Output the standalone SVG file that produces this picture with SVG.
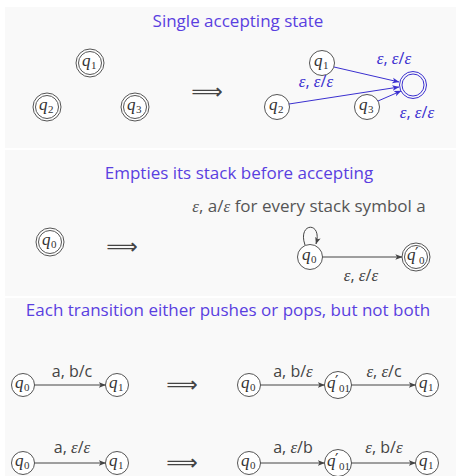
<svg xmlns="http://www.w3.org/2000/svg" width="456" height="476" viewBox="0 0 456 476">
<defs>
<marker id="ah" viewBox="0 0 10 10" refX="9.5" refY="5" markerWidth="7" markerHeight="7" orient="auto" markerUnits="userSpaceOnUse"><path d="M0,1 L10,5 L0,9 L2.5,5 Z" fill="#444"/></marker>
<marker id="ahb" viewBox="0 0 10 10" refX="9.5" refY="5" markerWidth="7" markerHeight="7" orient="auto" markerUnits="userSpaceOnUse"><path d="M0,1 L10,5 L0,9 L2.5,5 Z" fill="#3b30d0"/></marker>
</defs>
<style>
.panel{fill:#f9f9f9}
.title{font-family:"Open Sans","Liberation Sans",sans-serif;font-size:17px;fill:#5a3fe0;text-anchor:middle}
.st{fill:#fff;stroke:#555;stroke-width:1}
.stb{fill:none;stroke:#3b30d0;stroke-width:1}
.q{font-family:"Liberation Serif",serif;font-style:italic;font-size:17px;fill:#333}
.sub{font-family:"Liberation Serif",serif;font-style:normal;font-size:11px}
.pr{font-family:"DejaVu Sans",sans-serif;font-style:normal;font-size:15px}
.lbl{font-family:"Open Sans","Liberation Sans",sans-serif;font-size:16px;fill:#444;text-anchor:middle}
.lblb{font-family:"Open Sans","Liberation Sans",sans-serif;font-size:16px;fill:#3b30d0;text-anchor:middle}
.e{font-family:"Liberation Serif",serif;font-style:italic;font-size:17px}
.edge{fill:none;stroke:#444;stroke-width:1}
.edgeb{fill:none;stroke:#3b30d0;stroke-width:1}
.imp{font-family:"DejaVu Sans",sans-serif;font-size:22px;fill:#444;text-anchor:middle}
</style>
<rect class="panel" x="5" y="7" width="451" height="141"/>
<rect class="panel" x="5" y="150" width="451" height="146"/>
<rect class="panel" x="5" y="298" width="451" height="178"/>

<text class="title" x="238" y="27">Single accepting state</text>
<text class="title" x="239" y="179">Empties its stack before accepting</text>
<text class="title" x="228" y="316">Each transition either pushes or pops, but not both</text>

<!-- Panel 1 left -->
<g id="p1-q1"><circle class="st" cx="90" cy="63" r="14"/><circle class="st" cx="90" cy="63" r="11.5"/><text class="q" x="82" y="66">q<tspan class="sub" x="91" y="69">1</tspan></text></g>
<g id="p1-q2"><circle class="st" cx="47" cy="107" r="14"/><circle class="st" cx="47" cy="107" r="11.5"/><text class="q" x="39" y="110">q<tspan class="sub" x="48" y="113">2</tspan></text></g>
<g id="p1-q3"><circle class="st" cx="135" cy="107" r="14"/><circle class="st" cx="135" cy="107" r="11.5"/><text class="q" x="127" y="110">q<tspan class="sub" x="136" y="113">3</tspan></text></g>
<text class="imp" x="207" y="99">⟹</text>

<!-- Panel 1 right -->
<g id="p1r-q1"><circle class="st" cx="322" cy="63" r="12.5"/><text class="q" x="314" y="66">q<tspan class="sub" x="323" y="69">1</tspan></text></g>
<g id="p1r-q2"><circle class="st" cx="277" cy="107" r="12.5"/><text class="q" x="269" y="110">q<tspan class="sub" x="278" y="113">2</tspan></text></g>
<g id="p1r-q3"><circle class="st" cx="367" cy="107" r="12.5"/><text class="q" x="359" y="110">q<tspan class="sub" x="368" y="113">3</tspan></text></g>
<g id="p1r-acc"><circle class="stb" cx="413" cy="85" r="13.5"/><circle class="stb" cx="413" cy="85" r="11"/></g>

<!-- Panel 2 -->
<g id="p2-q0"><circle class="st" cx="50" cy="242" r="14"/><circle class="st" cx="50" cy="242" r="11.5"/><text class="q" x="42" y="245">q<tspan class="sub" x="51" y="248">0</tspan></text></g>
<text class="imp" x="122" y="254">⟹</text>
<text class="lbl" x="309" y="212" style="font-size:17px;fill:#555"><tspan class="e">ε</tspan>, a/<tspan class="e">ε</tspan> for every stack symbol a</text>
<g id="p2r-q0"><circle class="st" cx="310" cy="257" r="12.5"/><text class="q" x="302" y="260">q<tspan class="sub" x="311" y="263">0</tspan></text></g>
<g id="p2r-q0p"><circle class="st" cx="416" cy="257" r="14"/><circle class="st" cx="416" cy="257" r="11.5"/><text class="q" x="407" y="260">q<tspan class="pr" x="415" y="259">′</tspan><tspan class="sub" x="419" y="264">0</tspan></text></g>

<!-- Panel 3 row 1 -->
<g id="p3a-q0"><circle class="st" cx="23" cy="385" r="11.5"/><text class="q" x="15" y="388">q<tspan class="sub" x="24" y="391">0</tspan></text></g>
<g id="p3a-q1"><circle class="st" cx="117" cy="385" r="11.5"/><text class="q" x="109" y="388">q<tspan class="sub" x="118" y="391">1</tspan></text></g>
<text class="imp" x="182" y="392">⟹</text>
<g id="p3b-q0"><circle class="st" cx="249" cy="385" r="11.5"/><text class="q" x="241" y="388">q<tspan class="sub" x="250" y="391">0</tspan></text></g>
<g id="p3b-q01"><circle class="st" cx="338" cy="385" r="13.5"/><text class="q" x="327" y="388">q<tspan class="pr" x="335" y="387">′</tspan><tspan class="sub" x="339" y="392">01</tspan></text></g>
<g id="p3b-q1"><circle class="st" cx="427" cy="385" r="11.5"/><text class="q" x="419" y="388">q<tspan class="sub" x="428" y="391">1</tspan></text></g>

<!-- Panel 3 row 2 -->
<g id="p3c-q0"><circle class="st" cx="23" cy="463" r="11.5"/><text class="q" x="15" y="466">q<tspan class="sub" x="24" y="469">0</tspan></text></g>
<g id="p3c-q1"><circle class="st" cx="117" cy="463" r="11.5"/><text class="q" x="109" y="466">q<tspan class="sub" x="118" y="469">1</tspan></text></g>
<text class="imp" x="182" y="470">⟹</text>
<g id="p3d-q0"><circle class="st" cx="249" cy="463" r="11.5"/><text class="q" x="241" y="466">q<tspan class="sub" x="250" y="469">0</tspan></text></g>
<g id="p3d-q01"><circle class="st" cx="338" cy="463" r="13.5"/><text class="q" x="327" y="466">q<tspan class="pr" x="335" y="465">′</tspan><tspan class="sub" x="339" y="470">01</tspan></text></g>
<g id="p3d-q1"><circle class="st" cx="427" cy="463" r="11.5"/><text class="q" x="419" y="466">q<tspan class="sub" x="428" y="469">1</tspan></text></g>

<g id="connectors">
<path class="edgeb" d="M334,67 L399,82" marker-end="url(#ahb)"/>
<path class="edgeb" d="M289,104 L399,87" marker-end="url(#ahb)"/>
<path class="edgeb" d="M378,101 L401,91" marker-end="url(#ahb)"/>
<text class="lblb" x="394" y="64"><tspan class="e">ε</tspan>, <tspan class="e">ε</tspan>/<tspan class="e">ε</tspan></text>
<text class="lblb" x="316" y="87"><tspan class="e">ε</tspan>, <tspan class="e">ε</tspan>/<tspan class="e">ε</tspan></text>
<text class="lblb" x="417" y="118"><tspan class="e">ε</tspan>, <tspan class="e">ε</tspan>/<tspan class="e">ε</tspan></text>

<path class="edge" d="M305,245 C297,222 323,221 316,244" marker-end="url(#ah)"/>
<path class="edge" d="M322.5,257 L402,257" marker-end="url(#ah)"/>
<text class="lbl" x="361" y="281"><tspan class="e">ε</tspan>, <tspan class="e">ε</tspan>/<tspan class="e">ε</tspan></text>

<path class="edge" d="M34.5,385 L105.5,385" marker-end="url(#ah)"/>
<text class="lbl" x="72" y="377">a, b/c</text>
<path class="edge" d="M260.5,385 L324.5,385" marker-end="url(#ah)"/>
<text class="lbl" x="293" y="377">a, b/<tspan class="e">ε</tspan></text>
<path class="edge" d="M351.5,385 L415.5,385" marker-end="url(#ah)"/>
<text class="lbl" x="384" y="377"><tspan class="e">ε</tspan>, <tspan class="e">ε</tspan>/c</text>

<path class="edge" d="M34.5,463 L105.5,463" marker-end="url(#ah)"/>
<text class="lbl" x="72" y="453">a, <tspan class="e">ε</tspan>/<tspan class="e">ε</tspan></text>
<path class="edge" d="M260.5,463 L324.5,463" marker-end="url(#ah)"/>
<text class="lbl" x="293" y="453">a, <tspan class="e">ε</tspan>/b</text>
<path class="edge" d="M351.5,463 L415.5,463" marker-end="url(#ah)"/>
<text class="lbl" x="384" y="453"><tspan class="e">ε</tspan>, b/<tspan class="e">ε</tspan></text>
</g>
</svg>
